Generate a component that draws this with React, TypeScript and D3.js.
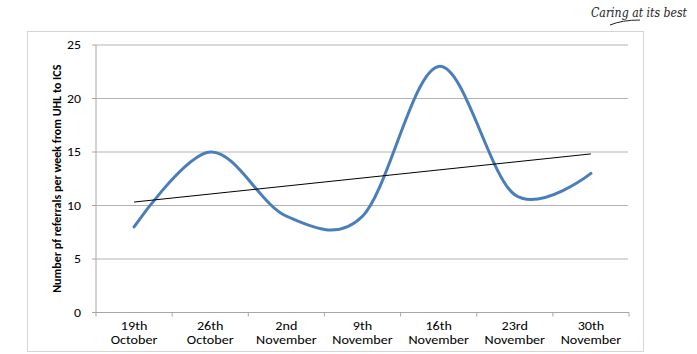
import React from "react";
import * as d3 from "d3";

const weekTop = ["19th", "26th", "2nd", "9th", "16th", "23rd", "30th"];
const weekBottom = ["October", "October", "November", "November", "November", "November", "November"];
const referrals = [8, 15, 9, 9, 23, 11, 13];
const yTicks = [0, 5, 10, 15, 20, 25];
const yTitle = "Number pf referrals per week from UHL to ICS";
const tagline = "Caring at its best";

const W = 697, H = 354;
const left = 96, right = 629, top = 45, bottom = 312.5;

export default function App() {
  const cats = weekTop.map((t, i) => t + " " + weekBottom[i]);
  const x = d3.scaleBand<string>().domain(cats).range([left, right]);
  const y = d3.scaleLinear().domain([0, 25]).range([bottom, top]);
  const cx = (i: number) => (x(cats[i]) as number) + x.bandwidth() / 2;

  const pts: [number, number][] = referrals.map((v, i) => [cx(i), y(v)]);
  const line = d3.line().curve(d3.curveCardinal.tension(0))(pts) || "";

  // linear trend
  const n = referrals.length;
  const xs = referrals.map((_, i) => i + 1);
  const mx = d3.mean(xs) as number;
  const my = d3.mean(referrals) as number;
  const sxy = d3.sum(xs.map((xv, i) => (xv - mx) * (referrals[i] - my)));
  const sxx = d3.sum(xs.map((xv) => (xv - mx) ** 2));
  const slope = sxy / sxx;
  const icpt = my - slope * mx;
  const t0 = icpt + slope * 1;
  const t1 = icpt + slope * n;

  const boundaries = cats.map((c) => x(c) as number).concat([right]);
  const font = "Carlito, 'Open Sans', 'Liberation Sans', sans-serif";
  const sx = 1.2;

  return (
    <svg width={W} height={H} style={{ position: "absolute", left: 0, top: 0, background: "#fff" }}>
      <rect x={27.5} y={31.5} width={616} height={320} fill="#fff" stroke="#d4d4d4" strokeWidth={1} />
      {yTicks.filter((t) => t > 0).map((t) => (
        <line key={t} x1={left} x2={right - 1} y1={y(t)} y2={y(t)} stroke="#b3b3b3" strokeWidth={1} />
      ))}
      <line x1={left} x2={left} y1={top} y2={bottom} stroke="#a6a6a6" strokeWidth={1} />
      {yTicks.map((t) => (
        <g key={t}>
          <line x1={left - 4} x2={left} y1={y(t)} y2={y(t)} stroke="#a6a6a6" />
          <text
            transform={`translate(${left - 15}, ${y(t)}) scale(${sx}, 1)`}
            dy="0.35em"
            textAnchor="end"
            fontSize={11.5}
            fontFamily={font}
            fill="#000"
          >
            {t}
          </text>
        </g>
      ))}
      <line x1={left - 4} x2={right} y1={bottom} y2={bottom} stroke="#a6a6a6" strokeWidth={1} />
      {boundaries.map((b, i) => (
        <line key={i} x1={b} x2={b} y1={bottom} y2={bottom + 4} stroke="#a6a6a6" />
      ))}
      {cats.map((c, i) => (
        <g key={c} transform={`translate(${cx(i)}, 0) scale(${sx}, 1)`}>
          <text x={0} y={330} textAnchor="middle" fontSize={11.8} fontFamily={font} fill="#000">
            {weekTop[i]}
          </text>
          <text x={0} y={344.5} textAnchor="middle" fontSize={11.8} fontFamily={font} fill="#000">
            {weekBottom[i]}
          </text>
        </g>
      ))}
      <text
        transform={`translate(61, ${(top + bottom) / 2}) rotate(-90)`}
        textAnchor="middle"
        fontSize={12}
        fontWeight="bold"
        fontFamily={font}
        fill="#000"
      >
        {yTitle}
      </text>
      <path d={line} fill="none" stroke="#4a7ebb" strokeWidth={3} strokeLinecap="round" />
      <line x1={cx(0)} x2={cx(n - 1)} y1={y(t0)} y2={y(t1)} stroke="#000" strokeWidth={1} />
      <text
        x={591}
        y={17}
        fontSize={12}
        fontStyle="italic"
        fontFamily="'DejaVu Serif', serif"
        fill="#222"
        textLength={96}
        lengthAdjust="spacingAndGlyphs"
      >
        {tagline}
      </text>
      <path d="M 610 25 Q 622 20 640 20" fill="none" stroke="#222" strokeWidth={1} />
    </svg>
  );
}
